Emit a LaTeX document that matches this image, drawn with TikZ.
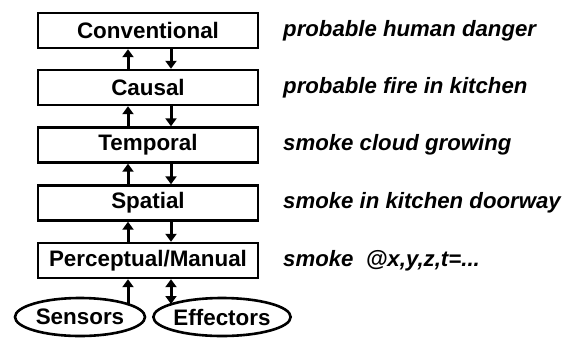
\documentclass[tikz,border=0pt]{standalone}
\usepackage{fontspec}
\setmainfont{Liberation Sans}
\usetikzlibrary{arrows.meta,shapes.geometric}
\begin{document}
\begin{tikzpicture}[x=1pt,y=-1pt,
  level/.style={draw,line width=2.4pt,minimum width=220pt,minimum height=35pt,inner sep=1pt,font=\fontsize{22.4}{26}\selectfont\bfseries},
  oval/.style={draw,ellipse,line width=2.6pt,inner sep=0pt,font=\fontsize{22.4}{26}\selectfont\bfseries},
  note/.style={anchor=west,inner sep=0pt,font=\fontsize{22.2}{26}\selectfont\bfseries\itshape},
  arr/.style={line width=3pt,-{Triangle[width=11pt,length=8pt]}},
  darr/.style={line width=3pt,{Triangle[width=11pt,length=8pt]}-{Triangle[width=11pt,length=8pt]}}]
\useasboundingbox (0,0) rectangle (574,341);
\node[level] (conv) at (148,30.5) {Conventional};
\node[level] (caus) at (148,87.5) {Causal};
\node[level] (temp) at (148,145) {Temporal};
\node[level] (spat) at (148,203) {Spatial};
\node[level] (perc) at (148,260.5) {Perceptual/Manual};
\node[oval,minimum width=130pt,minimum height=38pt] (sens) at (80,317) {Sensors};
\node[oval,minimum width=132pt,minimum height=38pt] (effe) at (222,317) {Effectors};
\node[note] (n1) at (283,30.5) {probable human danger};
\node[note] (n2) at (283,87.5) {probable fire in kitchen};
\node[note] (n3) at (283,145) {smoke cloud growing};
\node[note] (n4) at (283,203) {smoke in kitchen doorway};
\node[note] (n5) at (283,260.5) {smoke\ \ @x,y,z,t=...};
\coordinate (upx) at (128,0);
\coordinate (dnx) at (171,0);
\foreach \lo/\hi in {caus/conv,temp/caus,spat/temp,perc/spat}{
  \draw[arr] (\lo.north -| upx) -- (\hi.south -| upx);
  \draw[arr] (\hi.south -| dnx) -- (\lo.north -| dnx);
}
\coordinate (sensTop) at (128,304);
\draw[arr] (sensTop) -- (perc.south -| upx);
\coordinate (effTop) at (171,304);
\draw[darr] (perc.south -| dnx) -- (effTop);
\end{tikzpicture}
\end{document}
